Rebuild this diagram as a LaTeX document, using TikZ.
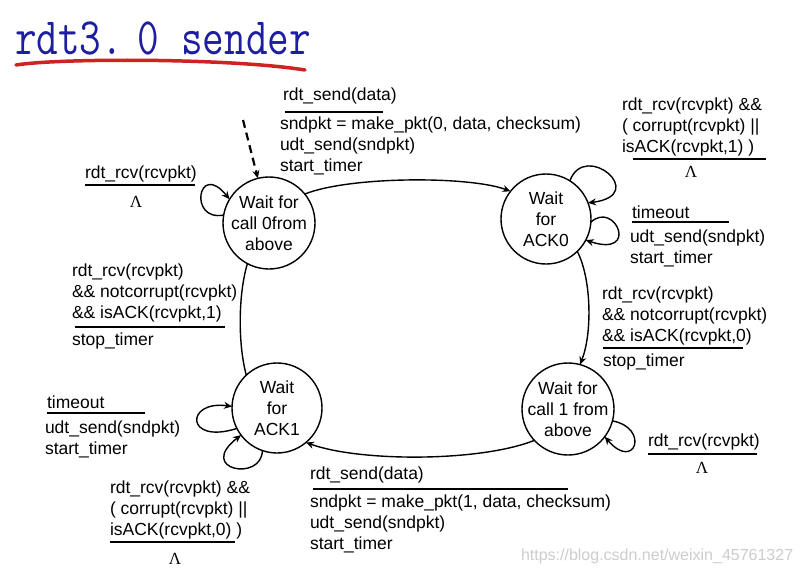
\documentclass[tikz,border=0pt]{standalone}
\usepackage{fontspec}
\setmainfont{Liberation Sans}
\newfontfamily\lamfont{Liberation Serif}
\usetikzlibrary{arrows.meta}
\definecolor{titleblue}{RGB}{30,30,160}
\definecolor{penred}{RGB}{205,35,35}
\definecolor{wmgray}{RGB}{205,205,205}
\newcommand\lblfont{\fontsize{17.5}{21}\selectfont}
\begin{document}
\begin{tikzpicture}[x=1pt,y=-1pt,
  every node/.style={inner sep=0pt, outer sep=0pt},
  state/.style={draw, circle, line width=1.4pt, inner sep=-12pt, minimum size=90pt, align=center, font=\lblfont},
  lbl/.style={anchor=base west, align=left, font=\lblfont},
  lam/.style={font=\lamfont\fontsize{17}{17}\selectfont},
  trans/.style={line width=1.4pt, -{Stealth[length=8pt,width=7pt]}},
  plain/.style={line width=1.4pt},
  bar/.style={line width=2.8pt},
]
\fill[white] (0,0) rectangle (802,575);
\useasboundingbox (0,0) rectangle (802,575);

% title
\node[anchor=base west, text=titleblue, font=\ttfamily\fontsize{42}{42}\selectfont] (title) at (15,55) {\scalebox{1}[1.25]{rdt3.\hspace{0.35em}0 sender}};
\draw[penred, line width=3.5pt, line cap=round] (16,65) .. controls (60,58) and (230,58) .. (305,70);

% states
\node[state, minimum size=92pt] (s0) at (269,223) {Wait for\\call 0from\\above};
\node[state] (s1) at (546,219) {Wait\\for\\ACK0};
\node[state, minimum size=92pt] (s2) at (568,409) {Wait for\\call 1 from\\above};
\node[state] (s3) at (277,408) {Wait\\for\\ACK1};

% initial dashed arrow
\coordinate (init) at (243,120);
\draw[trans, line width=2.2pt, dash pattern=on 8pt off 5pt] (init) -- (s0.104);

% transitions
\draw[trans] (s0.39) .. controls (350,176) and (470,176) .. (s1.142);
\draw[trans] (s1.-46) .. controls (592,280) and (592,335) .. (s2.75);
\draw[trans] (s2.223) .. controls (480,462) and (360,462) .. (s3.-50);
\draw[plain] (s3.133) .. controls (238,345) and (238,295) .. (s0.242);

% self loops
\draw[trans] (s0.170) .. controls (188,222) and (198,160) .. (s0.149);
\draw[trans] (s1.58) .. controls (585,140) and (650,195) .. (s1.21);
\draw[trans] (s1.-4) .. controls (615,200) and (640,258) .. (s1.-28);
\draw[trans] (s2.-15) .. controls (650,428) and (635,472) .. (s2.-37);
\draw[trans] (s3.207) .. controls (185,445) and (185,400) .. (s3.178);
\draw[trans] (s3.251) .. controls (262,482) and (196,470) .. (s3.217);

% labels: s0 -> s1
\node[lbl] (e01) at (283,101) {rdt\_send(data)};
\draw[bar] (285,112) -- (383,112);
\node[lbl] (a01) at (280,171) {sndpkt = make\_pkt(0, data, checksum)\\udt\_send(sndpkt)\\start\_timer};

% s0 loop
\node[lbl] (e00) at (85,178) {rdt\_rcv(rcvpkt)};
\draw[bar] (85,185) -- (195,185);
\node[lam] (l00) at (136,202) {Λ};

% s3 -> s0
\node[lbl] (e30) at (72,318) {rdt\_rcv(rcvpkt)\\\&\& notcorrupt(rcvpkt)\\\&\& isACK(rcvpkt,1)};
\draw[bar] (75,327) -- (225,327);
\node[lbl] (a30) at (72,345) {stop\_timer};

% s1 loop (corrupt)
\node[lbl] (e11) at (622,152) {rdt\_rcv(rcvpkt) \&\&\\( corrupt(rcvpkt) ||\\isACK(rcvpkt,1) )};
\draw[bar] (633,159) -- (766,159);
\node[lam] (l11) at (691,172) {Λ};

% s1 loop (timeout)
\node[lbl] (e11t) at (632,218) {timeout};
\draw[bar] (632,222) -- (729,222);
\node[lbl] (a11t) at (630,263) {udt\_send(sndpkt)\\start\_timer};

% s1 -> s2
\node[lbl] (e12) at (602,341) {rdt\_rcv(rcvpkt)\\\&\& notcorrupt(rcvpkt)\\\&\& isACK(rcvpkt,0)};
\draw[bar] (603,348) -- (743,348);
\node[lbl] (a12) at (603,366) {stop\_timer};

% s2 loop
\node[lbl] (e22) at (648,446) {rdt\_rcv(rcvpkt)};
\draw[bar] (648,454) -- (757,454);
\node[lam] (l22) at (702,468) {Λ};

% s2 -> s3
\node[lbl] (e23) at (310,479) {rdt\_send(data)};
\draw[bar] (313,489) -- (568,489);
\node[lbl] (a23) at (310,549) {sndpkt = make\_pkt(1, data, checksum)\\udt\_send(sndpkt)\\start\_timer};

% s3 loop (timeout)
\node[lbl] (e33t) at (47,408) {timeout};
\draw[bar] (47,413) -- (145,413);
\node[lbl] (a33t) at (45,454) {udt\_send(sndpkt)\\start\_timer};

% s3 loop (corrupt)
\node[lbl] (e33) at (110,535) {rdt\_rcv(rcvpkt) \&\&\\( corrupt(rcvpkt) ||\\isACK(rcvpkt,0) )};
\draw[bar] (110,542) -- (235,542);
\node[lam] (l33) at (175,559) {Λ};

% watermark
\node[anchor=base west, text=wmgray, font=\fontsize{16}{16}\selectfont] (wm) at (521,560) {https://blog.csdn.net/weixin\_45761327};
\end{tikzpicture}
\end{document}
